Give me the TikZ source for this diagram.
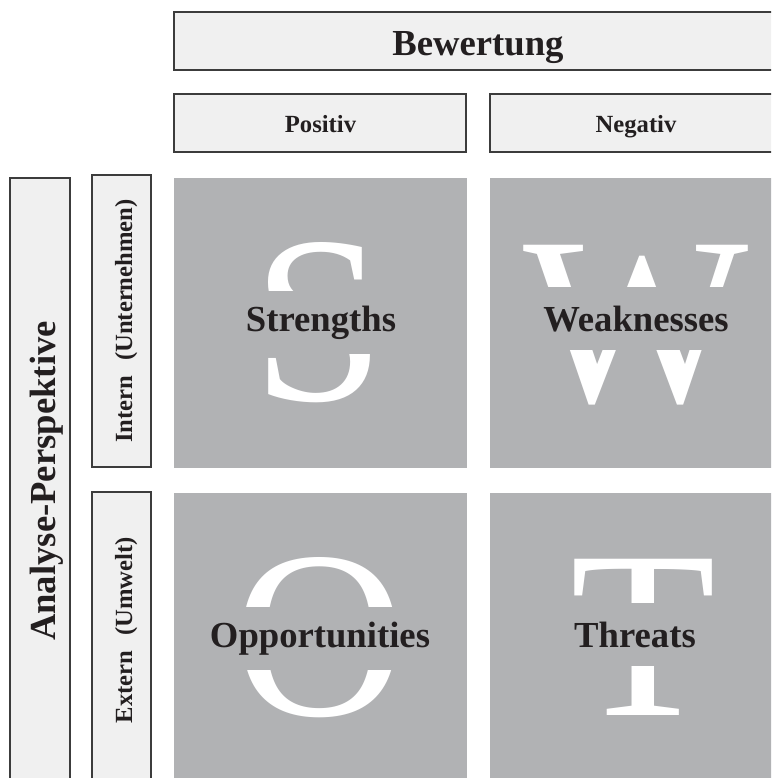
\documentclass[tikz,border=0pt]{standalone}
\usepackage{fontspec}
\setmainfont{Liberation Serif}
\usetikzlibrary{positioning}
\definecolor{boxfill}{HTML}{F0F0F0}
\definecolor{boxline}{HTML}{3C3C3C}
\definecolor{swotgray}{HTML}{B1B2B4}
\definecolor{inkblack}{HTML}{231F20}
\tikzset{
  headbox/.style={draw=boxline, fill=boxfill, line width=1.1pt},
  swotfield/.style={fill=swotgray},
  bigtext/.style={text=inkblack, anchor=base, inner sep=0pt, font=\fontsize{27.5}{30}\selectfont\bfseries},
  smalltext/.style={text=inkblack, anchor=base, inner sep=0pt, font=\fontsize{18.5}{20}\selectfont\bfseries},
  swotletter/.style={text=white, anchor=base, inner sep=0pt, font=\fontsize{179}{180}\selectfont},
  swotlabel/.style={bigtext, fill=swotgray, minimum width=190pt, minimum height=47pt},
}

\begin{document}
\begin{tikzpicture}[x=0.75pt,y=0.75pt,yscale=-1,xscale=1]
    \useasboundingbox (0,0) rectangle (771,778);
    \clip (0,0) rectangle (771,778);
    % Kopf: Bewertung
    \draw[headbox] (174,12) rectangle (783,70);
    \draw[headbox] (174,94) rectangle (466,152);
    \draw[headbox] (490,94) rectangle (783,152);
    % linke Spalte: Analyse-Perspektive
    \draw[headbox] (10,178) rectangle (70,830);
    \draw[headbox] (92,175) rectangle (151,467);
    \draw[headbox] (92,492) rectangle (151,830);
    % SWOT-Felder
    \fill[swotfield] (174,178) rectangle (467,468);
    \fill[swotfield] (490,178) rectangle (783,468);
    \fill[swotfield] (174,493) rectangle (467,783);
    \fill[swotfield] (490,493) rectangle (783,783);
    \node[bigtext] (bew) at (478,55) {Bewertung};
    \node[smalltext] (pos) at (320.5,132) {Positiv};
    \node[smalltext] (neg) at (636,132) {Negativ};
    \node[bigtext, rotate=90] (ana) at (55,481) {Analyse-Perspektive};
    \node[smalltext, rotate=90] (intern) at (132,321) {Intern\hspace{0.6em}(Unternehmen)};
    \node[smalltext, rotate=90] (extern) at (132,630) {Extern\hspace{0.6em}(Umwelt)};
    % grosse Buchstaben
    \node[swotletter] (bigS) at (319,400) {S};
    \node[swotletter] (bigW) at (636,401) {W};
    \node[swotletter] (bigO) at (320,715) {O};
    \node[swotletter] (bigT) at (643,715) {T};
    \node[swotlabel] (str) at (321,331) {Strengths};
    \node[swotlabel] (weak) at (636,331) {Weaknesses};
    \node[swotlabel] (opp) at (320,647) {Opportunities};
    \node[swotlabel] (thr) at (635,647) {Threats};
\end{tikzpicture}
\end{document}
